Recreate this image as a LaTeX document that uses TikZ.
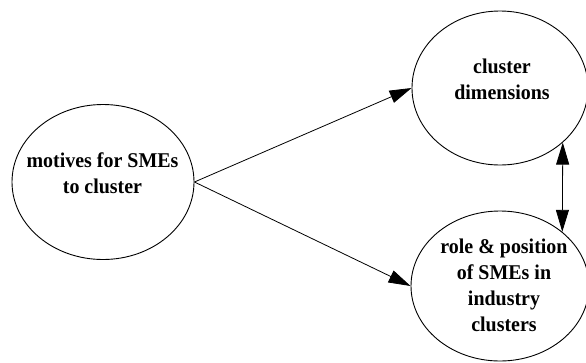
\documentclass[tikz,border=0pt]{standalone}
\usepackage{fontspec}
\setmainfont{Liberation Serif}
\newfontfamily\bubblefont[FakeStretch=0.95]{Liberation Serif}
\usetikzlibrary{arrows.meta,shapes.geometric}
\begin{document}
\begin{tikzpicture}[x=1pt,y=-1pt,
  bubble/.style={draw=black,line width=0.9pt,ellipse,inner sep=0pt},
  caption/.style={align=center,inner sep=0pt,font=\bubblefont\fontsize{21}{26}\selectfont\bfseries},
  link/.style={line width=0.8pt,-{Triangle[length=22pt,width=13pt]}},
  twoway/.style={line width=0.8pt,{Triangle[length=22pt,width=13pt]}-{Triangle[length=22pt,width=13pt]}}]
  \useasboundingbox (0,0) rectangle (586,362);
  % the three ellipses
  \node[bubble,minimum width=182pt,minimum height=155pt] (motives) at (103,182) {};
  \node[bubble,minimum width=176pt,minimum height=154pt] (dims) at (500,88) {};
  \node[bubble,minimum width=178pt,minimum height=150pt] (role) at (500,286) {};
  % their captions
  \node[caption] (motivesText) at (102.5,173.4) {motives for SMEs\\to cluster};
  \node[caption] (dimsText) at (502,79.4) {cluster\\dimensions};
  \node[caption] (roleText) at (504,285.4) {role \& position\\of SMEs in\\industry\\clusters};
  % connectors
  \draw[link] (motives.east) -- (dims.west);
  \draw[link] (motives.east) -- (role.west);
  \draw[twoway] (dims.-41) -- (role.41);
\end{tikzpicture}
\end{document}
